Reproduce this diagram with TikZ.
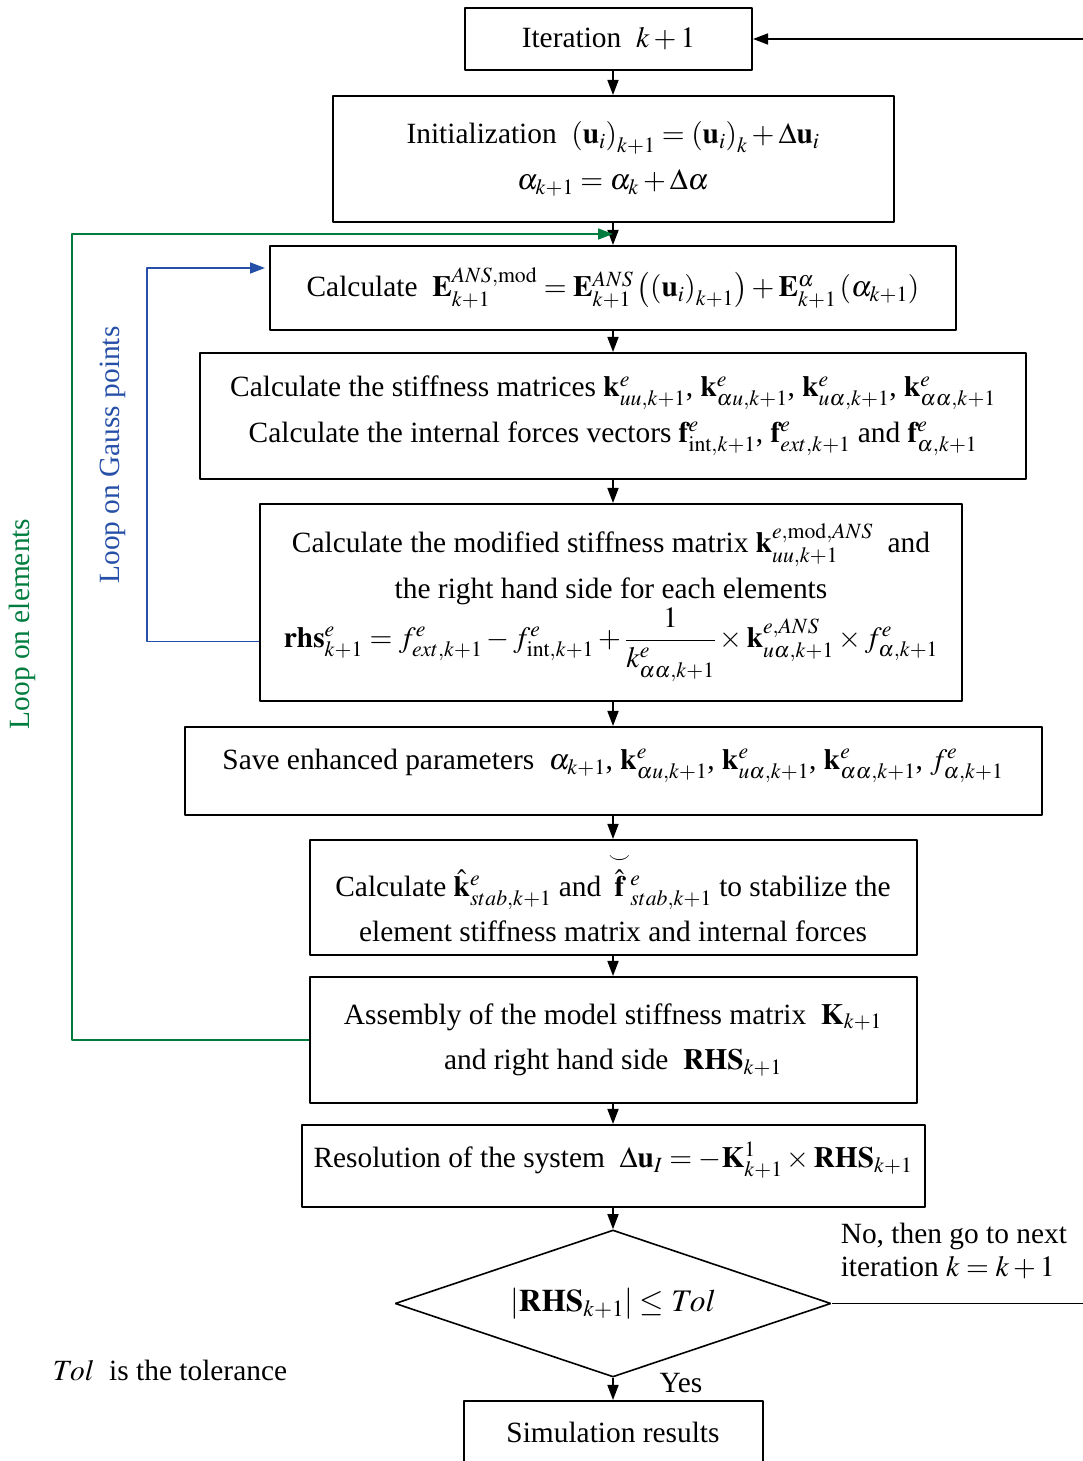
\documentclass[tikz,border=0pt]{standalone}
\usepackage{amsmath}
\usepackage{mathptmx}
\usepackage{fontspec}
\setmainfont{Liberation Serif}
\usepackage[rgb]{xcolor}
\usetikzlibrary{arrows.meta,shapes.geometric}
\definecolor{loopgreen}{RGB}{0,125,62}
\definecolor{loopblue}{RGB}{38,80,168}

\begin{document}
\begin{tikzpicture}[>={Triangle[length=15bp,width=11bp]},line join=bevel,line width=1.6bp,
  proc/.style={draw,rectangle,line width=2bp,align=center,inner sep=0pt,font=\fontsize{29.5}{46}\selectfont},
  txt/.style={inner sep=0pt,font=\fontsize{29.5}{33}\selectfont}]
\useasboundingbox (0bp,0bp) rectangle (1083bp,1461bp);
%%
\node (iter) at (608.5bp,1422bp) [proc,minimum width=287bp,minimum height=62bp] {Iteration \ $k+1$};
  \node (init) at (613bp,1302bp) [proc,minimum width=561bp,minimum height=126bp]
    {Initialization \ $\left(\mathbf{u}_i\right)_{k+1}=\left(\mathbf{u}_i\right)_k+\Delta\mathbf{u}_i$\\
     $\alpha_{k+1}=\alpha_k+\Delta\alpha$};
  \node (calcE) at (613bp,1173bp) [proc,minimum width=686bp,minimum height=84bp]
    {Calculate \ $\mathbf{E}^{ANS,\mathrm{mod}}_{k+1}=\mathbf{E}^{ANS}_{k+1}\left(\left(\mathbf{u}_i\right)_{k+1}\right)+\mathbf{E}^{\alpha}_{k+1}\left(\alpha_{k+1}\right)$};
  \node (stiff) at (613bp,1045bp) [proc,minimum width=826bp,minimum height=126bp]
    {Calculate the stiffness matrices $\mathbf{k}^e_{uu,k+1}$, $\mathbf{k}^e_{\alpha u,k+1}$, $\mathbf{k}^e_{u\alpha,k+1}$, $\mathbf{k}^e_{\alpha\alpha,k+1}$\\
     Calculate the internal forces vectors $\mathbf{f}^e_{\mathrm{int},k+1}$, $\mathbf{f}^e_{ext,k+1}$ and $\mathbf{f}^e_{\alpha,k+1}$};
  \node (modif) at (611bp,858.5bp) [proc,minimum width=702bp,minimum height=197bp]
    {Calculate the modified stiffness matrix $\mathbf{k}^{e,\mathrm{mod},ANS}_{uu,k+1}$ \ and\\
     the right hand side for each elements\\[2bp]
     $\mathbf{rhs}^e_{k+1}=f^e_{ext,k+1}-f^e_{\mathrm{int},k+1}+\dfrac{1}{k^e_{\alpha\alpha,k+1}}\times\mathbf{k}^{e,ANS}_{u\alpha,k+1}\times f^e_{\alpha,k+1}$};
  \node (save) at (613bp,690bp) [proc,minimum width=857bp,minimum height=88bp,text depth=24bp]
    {Save enhanced parameters \ $\alpha_{k+1}$, $\mathbf{k}^e_{\alpha u,k+1}$, $\mathbf{k}^e_{u\alpha,k+1}$, $\mathbf{k}^e_{\alpha\alpha,k+1}$, $f^e_{\alpha,k+1}$};
  \node (stab) at (613bp,563.5bp) [proc,minimum width=607bp,minimum height=115bp]
    {Calculate $\hat{\mathbf{k}}{}^{e}_{stab,k+1}$ and $\overset{\smile}{\hat{\mathbf{f}}}{}^{e}_{stab,k+1}$ to stabilize the\\
     element stiffness matrix and internal forces};
  \node (assem) at (613bp,421bp) [proc,minimum width=607bp,minimum height=126bp]
    {Assembly of the model stiffness matrix \ $\mathbf{K}_{k+1}$\\
     and right hand side \ $\mathbf{RHS}_{k+1}$};
  \node (resol) at (613bp,295bp) [proc,minimum width=623bp,minimum height=82bp,text depth=22bp]
    {Resolution of the system \ $\Delta\mathbf{u}_I=-\mathbf{K}^{1}_{k+1}\times\mathbf{RHS}_{k+1}$};
  \node (test) at (613bp,157.5bp) [draw,diamond,line width=1.6bp,inner sep=0pt,aspect=2.97,
    minimum width=436bp,minimum height=147bp,font=\fontsize{31.5}{38}\selectfont]
    {$\left|\mathbf{RHS}_{k+1}\right|\le Tol$};
  \node (result) at (613bp,29bp) [proc,minimum width=299bp,minimum height=62bp] {Simulation results};
%
  \node (no) at (840bp,210bp) [txt,anchor=west,align=left] {No, then go to next\\iteration $k=k+1$};
  \node (yes) at (681bp,78bp) [txt] {Yes};
  \node (tolnote) at (52bp,91bp) [txt,anchor=west] {$Tol$\ \ is the tolerance};
  \node (gauss) at (113bp,1006bp) [txt,rotate=90,text=loopblue] {Loop on Gauss points};
  \node (elems) at (22bp,837bp) [txt,rotate=90,text=loopgreen] {Loop on elements};
%
  \coordinate (ret) at (1084bp,1422bp);
  \coordinate (gcorner) at (72bp,1227bp);
  \coordinate (bcorner) at (147bp,1193bp);
%
  \draw [->] (iter.south -| init.north) -- (init.north);
  \draw [->] (init) -- (calcE);
  \draw [->] (calcE) -- (stiff);
  \draw [->] (stiff.south) -- (stiff.south |- modif.north);
  \draw [->] (modif.south -| save.north) -- (save.north);
  \draw [->] (save) -- (stab);
  \draw [->] (stab) -- (assem);
  \draw [->] (assem) -- (resol);
  \draw [->] (resol) -- (test);
  \draw [->] (test) -- (result);
  \draw [->] (test.east) -| (ret) -- (iter.east);
%
  \draw [->,loopgreen] (assem.west) -| (gcorner) -- (gcorner -| calcE.north);
  \draw [->,loopblue,shorten >=4bp] ([yshift=-39bp]modif.west) -| (bcorner) -- ([yshift=20bp]calcE.west);
%
\end{tikzpicture}
\end{document}
